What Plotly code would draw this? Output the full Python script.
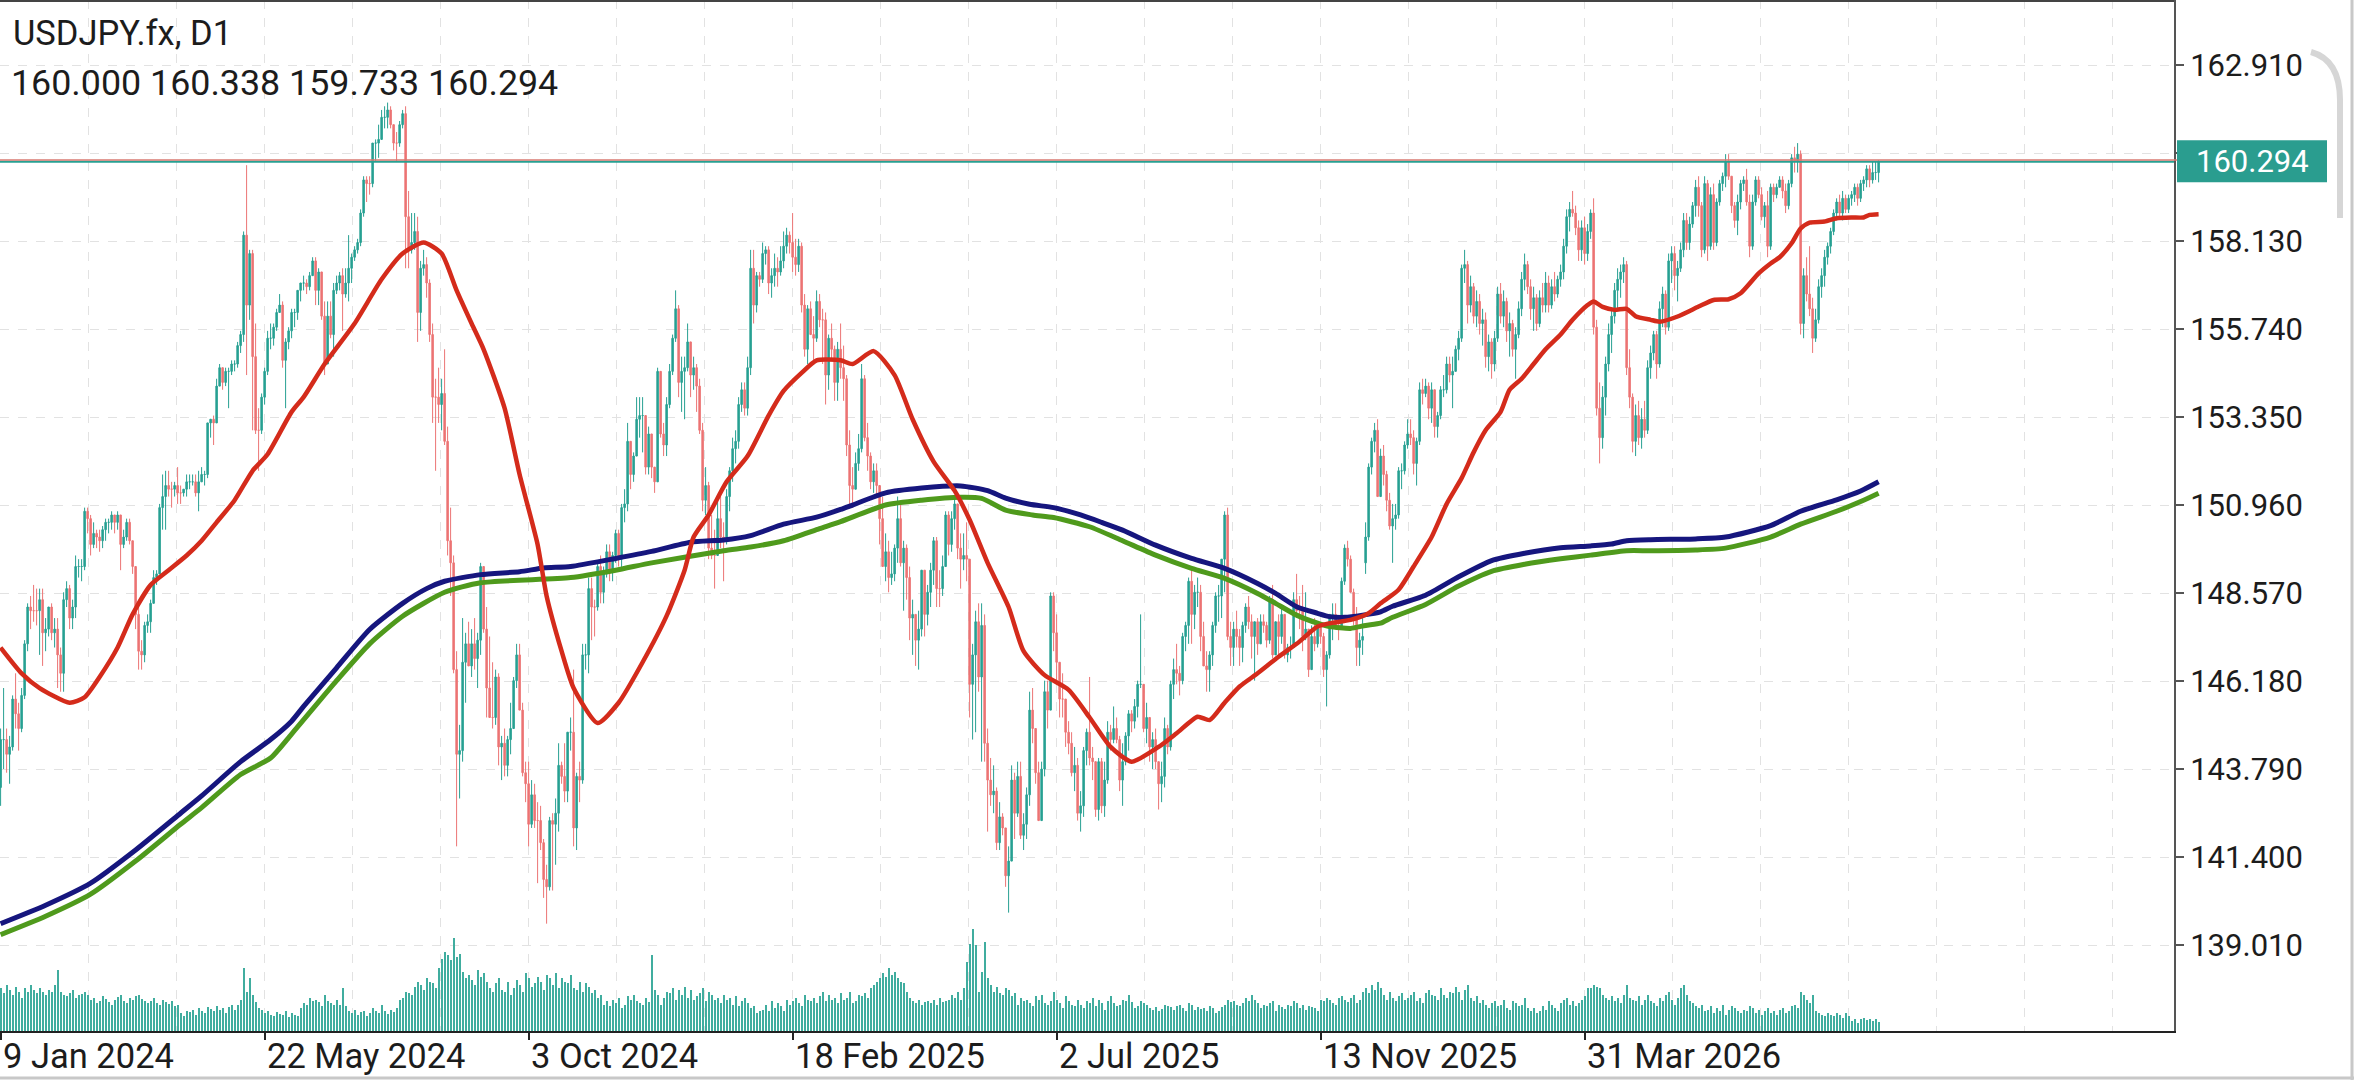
import plotly.graph_objects as go

# ---------------- data ----------------
symbol = "USDJPY.fx"
timeframe = "D1"

opens = [
143.3,144.6,144.6,144.2,144.4,145.7,145.3,144.9,145.8,147.2,
148.2,148.1,148.1,148.1,148.4,147.5,147.6,148.2,147.5,147.6,
146.9,146.4,148.4,148.7,147.9,148.2,149.3,149.3,149.3,150.8,
150.6,149.9,150.2,150.1,150.0,150.3,150.5,150.5,150.7,150.5,
150.7,149.9,150.1,150.5,150.0,149.3,148.0,147.0,146.9,147.7,
147.8,148.3,149.0,149.1,150.9,151.2,151.5,151.4,151.4,151.5,
151.3,151.3,151.4,151.6,151.6,151.6,151.3,151.6,151.8,151.8,
153.2,153.3,153.2,154.2,154.7,154.3,154.6,154.6,154.8,154.8,
155.3,155.6,158.3,156.4,157.8,155.0,153.0,153.0,153.9,154.6,
155.5,155.5,155.8,156.2,156.4,154.9,155.4,155.7,156.2,156.2,
156.8,157.0,157.0,156.9,157.2,157.6,156.8,157.3,156.1,154.8,
156.1,155.6,156.8,157.0,157.2,156.7,157.0,157.4,157.7,157.9,
158.1,158.9,159.8,159.7,159.7,160.8,160.8,160.9,161.5,161.5,
161.7,161.3,160.8,160.8,161.3,161.6,158.8,157.9,158.1,158.4,
156.2,157.4,157.5,157.0,155.6,153.9,153.9,153.7,154.0,152.7,
150.0,149.4,146.5,144.2,144.3,146.7,147.2,146.6,147.2,146.8,
147.3,149.3,147.6,146.0,145.2,145.2,146.3,144.4,144.5,143.9,
144.6,144.9,146.2,146.9,145.4,143.7,143.4,142.3,143.1,142.4,
142.4,141.8,140.8,140.6,142.4,142.3,142.6,143.9,143.6,143.2,
144.8,144.8,142.2,143.6,143.5,146.9,146.9,148.7,148.2,148.2,
149.3,148.6,149.1,149.7,149.2,149.6,150.2,149.5,150.9,151.0,
152.7,151.8,152.3,153.3,153.4,153.4,152.0,152.9,152.0,151.6,
154.6,152.9,152.6,153.7,154.6,155.5,156.3,154.3,154.6,154.7,
155.4,154.5,154.7,154.2,153.0,151.1,151.5,149.8,149.6,149.6,
150.6,150.1,150.0,151.2,151.9,152.5,152.7,153.7,154.1,153.6,
154.7,157.4,156.4,157.2,157.1,157.8,157.9,157.0,157.2,157.4,
157.3,157.6,158.0,158.3,158.1,157.7,157.5,158.0,156.4,155.2,
156.3,155.6,155.5,156.5,156.0,156.0,154.5,155.5,155.2,154.3,
155.2,154.7,154.4,152.6,151.5,151.4,152.1,152.5,154.4,152.8,
152.3,151.6,151.9,151.5,150.6,149.3,149.7,149.0,149.1,149.8,
150.6,149.4,149.8,149.0,147.9,148.0,147.3,147.6,149.2,148.0,
148.6,149.2,150.0,148.7,148.7,149.3,150.7,149.9,150.6,151.0,
149.8,149.5,149.6,149.5,146.1,146.9,147.8,146.3,147.7,144.5,
143.5,143.1,143.2,141.8,142.5,142.2,140.9,141.3,143.5,142.6,
143.6,142.0,142.3,143.1,145.4,144.9,143.7,142.4,143.8,145.9,
145.4,148.5,147.5,146.7,145.7,145.7,144.8,144.5,143.7,143.9,
142.6,142.8,144.3,144.8,144.1,144.0,142.7,144.0,142.8,143.5,
144.8,144.6,144.9,144.6,143.5,144.0,144.7,145.3,145.1,145.5,
146.1,146.1,144.9,145.2,144.4,144.6,144.0,143.4,143.6,144.9,
144.4,146.1,146.5,146.4,146.2,147.4,147.7,148.9,148.0,148.6,
148.6,147.4,146.6,146.5,146.9,147.7,148.5,148.5,149.5,150.7,
147.4,147.1,147.6,147.4,147.1,147.7,148.2,147.8,147.4,147.8,
147.2,147.8,147.7,147.3,148.4,146.9,147.8,147.4,148.0,146.9,
147.1,147.1,148.4,148.1,148.1,147.4,147.6,146.5,147.4,147.2,
147.7,147.4,146.5,146.9,148.0,148.0,147.7,147.6,148.9,149.8,
149.5,148.6,147.9,147.1,147.3,149.4,150.1,152.0,152.7,153.0,
151.2,152.3,151.8,151.1,150.4,150.6,150.7,151.9,151.9,152.6,
152.9,152.8,152.1,152.7,154.1,154.0,154.2,153.6,154.1,153.1,
153.4,154.1,154.1,154.8,154.5,154.6,155.2,155.5,157.4,157.5,
156.4,156.9,156.1,156.5,155.9,156.0,155.0,155.4,154.8,155.5,
156.7,156.1,156.5,155.7,155.9,155.2,155.6,156.3,157.1,157.5,
156.9,156.3,156.6,155.9,156.6,156.4,157.0,156.4,156.9,156.7,
157.1,157.3,158.0,158.8,159.0,158.9,158.5,157.9,158.5,157.8,
158.4,158.9,155.8,153.6,152.8,153.9,154.8,155.6,156.1,156.8,
157.1,157.3,157.5,154.7,153.9,152.7,153.4,152.8,153.3,153.0,
154.7,155.1,155.6,154.8,156.3,156.7,155.8,157.6,157.8,157.2,
157.4,157.9,158.7,158.1,158.6,159.1,159.6,159.1,157.9,159.7,
158.0,159.4,158.1,159.2,159.7,159.9,160.3,159.9,159.1,158.7,
159.2,159.7,159.8,159.2,158.0,159.2,159.8,159.4,158.8,159.1,
158.0,159.6,159.4,159.6,159.8,159.5,159.1,159.7,160.4,160.3,
160.5,155.9,157.2,156.7,156.3,155.5,156.0,156.9,157.2,157.7,
158.0,158.4,158.9,159.2,158.9,159.3,159.0,159.3,159.4,159.6,
159.3,159.7,159.8,160.1,159.8,160.0,160.000]

highs = [
144.9,146.0,144.9,144.7,145.8,146.4,145.6,146.0,147.3,148.3,
148.5,148.8,148.7,148.7,148.7,147.9,148.2,148.3,147.9,147.9,
147.1,148.6,148.9,148.8,148.4,149.6,149.5,149.5,150.9,150.9,
150.7,150.5,150.3,150.3,150.4,150.6,150.6,150.8,150.7,150.8,
150.7,150.3,150.6,150.6,150.0,149.3,148.2,147.3,147.8,148.0,
148.4,149.2,149.2,151.0,151.8,151.9,151.9,151.6,151.6,152.0,
151.5,151.4,151.8,151.8,151.8,151.8,151.9,152.0,151.9,153.2,
153.3,153.4,154.4,154.8,154.7,154.7,154.7,154.9,154.9,155.4,
155.7,158.4,160.2,157.9,157.9,155.9,153.6,154.0,154.7,155.7,
155.9,155.9,156.3,156.7,156.5,155.5,155.8,156.3,156.3,156.8,
157.0,157.2,157.1,157.3,157.7,157.7,157.4,157.2,156.5,156.5,
156.5,157.0,157.2,157.3,157.4,157.4,158.3,157.8,158.0,158.2,
159.0,159.9,159.9,159.9,160.8,160.9,161.3,161.7,161.8,161.9,
161.8,161.3,161.1,161.4,161.7,161.8,159.5,158.9,158.9,158.8,
157.6,157.9,157.7,157.1,155.9,154.4,154.7,154.4,155.2,153.1,
150.9,149.6,147.0,145.0,147.9,147.5,147.8,147.6,147.9,147.5,
149.4,149.0,148.2,147.4,146.7,146.5,146.4,144.7,144.9,144.7,
145.6,146.3,147.2,147.2,145.6,144.0,144.0,143.5,143.4,142.9,
142.8,141.9,141.2,142.5,142.6,143.0,144.5,144.0,144.5,144.8,
145.2,146.5,143.7,144.0,147.2,147.2,149.0,149.0,148.4,149.4,
149.6,149.3,149.9,149.9,149.7,150.3,150.3,151.0,151.4,153.2,
152.7,152.4,153.9,153.9,153.9,153.3,153.1,152.7,152.0,154.7,
154.6,153.2,153.9,154.8,155.6,156.8,156.4,155.0,155.0,155.9,
155.0,155.0,154.8,154.4,153.2,152.0,151.6,150.7,150.3,151.1,
151.2,150.5,151.4,152.0,152.8,153.0,153.9,154.3,154.3,155.0,
157.9,157.9,157.3,157.3,158.1,158.0,158.0,157.4,157.8,157.7,
158.0,158.4,158.5,158.4,158.9,158.2,158.2,158.1,156.7,156.4,
156.5,156.1,156.8,156.7,156.3,156.2,155.6,155.9,155.3,155.4,
155.9,155.3,154.5,153.0,152.0,152.4,152.9,154.8,154.5,153.2,
152.4,152.1,152.1,151.5,151.2,150.2,150.0,149.7,149.9,151.2,
151.0,150.0,149.9,149.3,148.4,148.0,148.1,149.2,149.0,148.8,
149.4,150.1,150.1,149.2,149.6,150.8,150.8,150.8,151.2,151.0,
150.2,150.2,150.5,149.3,147.2,148.1,148.3,148.3,148.0,144.9,
144.1,143.9,143.3,142.9,142.6,142.2,141.7,143.9,143.7,144.0,
144.0,142.6,143.3,145.9,146.0,144.9,144.0,144.0,146.2,146.2,
148.6,148.6,148.0,146.7,146.4,145.7,145.1,144.8,144.4,144.1,
143.2,144.4,144.9,146.3,144.4,144.0,144.1,144.1,144.0,145.1,
145.0,145.5,145.2,144.7,144.5,144.8,145.4,145.4,145.7,146.2,
148.0,146.1,145.6,145.2,144.8,144.9,144.0,144.0,145.2,145.0,
146.2,146.8,147.2,146.6,147.5,147.8,149.0,149.2,148.8,149.0,
148.8,147.8,147.0,147.0,147.8,148.6,148.8,149.5,150.8,150.9,
147.8,147.8,148.1,147.6,147.8,148.3,148.5,148.0,147.8,147.9,
148.0,148.0,147.8,148.5,148.8,147.8,148.0,148.2,148.0,147.2,
147.4,148.6,149.1,148.5,148.8,148.6,147.6,147.7,147.9,147.8,
147.8,147.5,147.0,148.0,148.3,148.3,147.9,149.0,149.9,150.0,
149.6,148.7,148.2,147.5,147.9,150.5,152.1,152.8,153.2,153.3,
152.5,152.6,151.9,151.3,151.0,151.0,152.0,152.1,152.7,153.3,
153.3,153.0,152.8,154.3,154.4,154.4,154.3,154.3,154.1,153.5,
154.2,154.5,155.0,155.0,155.0,155.3,155.7,157.5,157.9,157.6,
157.2,157.0,156.8,156.7,156.3,156.2,155.6,155.5,155.7,156.9,
157.0,156.8,156.6,156.2,156.0,155.8,156.5,157.3,157.8,157.6,
157.1,156.9,156.7,156.8,157.0,157.3,157.2,157.1,157.3,157.2,
157.5,158.2,159.0,159.2,159.5,159.1,158.7,158.7,158.8,158.6,
159.0,159.3,156.0,154.3,154.2,155.0,155.9,156.3,157.0,157.4,
157.5,157.7,157.6,155.2,154.0,153.7,153.8,153.6,153.8,154.9,
155.3,155.7,155.7,156.5,156.9,156.8,157.8,158.0,158.0,157.6,
158.1,158.9,158.9,158.8,159.2,159.8,159.9,159.2,159.9,159.8,
159.6,159.7,159.3,159.8,160.0,160.5,160.5,159.9,159.2,159.4,
159.8,159.9,160.1,159.4,159.4,159.9,159.9,159.6,159.2,159.5,
159.7,159.7,159.7,159.9,159.9,159.7,159.8,160.5,160.7,160.8,
160.6,157.4,157.7,158.0,156.6,156.3,157.1,157.4,157.9,158.1,
158.5,159.0,159.3,159.4,159.5,159.4,159.4,159.5,159.7,159.7,
159.8,159.9,160.2,160.2,160.3,160.3,160.338]

lows = [
142.8,143.8,143.7,143.4,144.3,144.9,144.3,144.8,145.7,147.0,
147.6,147.8,147.7,146.9,146.6,147.0,147.4,147.3,147.1,146.0,
145.9,145.9,148.2,147.6,147.6,147.9,149.0,148.9,149.2,150.2,
149.6,149.8,149.8,149.7,149.8,150.0,150.2,150.3,150.2,150.3,
149.2,149.8,150.0,149.9,149.1,147.6,146.5,146.5,146.7,147.5,
147.5,148.3,148.8,149.2,150.3,150.3,151.2,150.9,151.2,151.0,
151.0,151.2,151.2,151.4,151.5,151.2,150.8,151.6,151.5,151.7,
152.8,152.6,153.3,154.2,154.1,154.2,153.6,154.5,154.6,154.7,
155.1,155.4,154.5,156.0,153.0,152.9,151.9,152.9,153.7,154.5,
155.2,155.3,155.7,156.2,154.7,153.6,155.2,155.5,155.8,156.0,
156.5,156.8,156.7,156.8,157.2,156.4,156.4,156.0,154.5,154.8,
155.5,155.0,156.7,156.8,155.7,156.6,156.5,157.0,157.6,157.8,
158.0,158.8,159.2,159.4,159.6,160.3,160.4,160.9,161.2,161.2,
161.2,160.6,160.3,160.7,161.2,157.4,157.4,157.8,157.9,155.4,
155.7,157.2,156.6,155.4,153.2,151.9,153.2,153.0,152.6,149.6,
148.5,146.4,141.7,143.0,144.0,145.6,146.6,146.3,146.5,146.0,
146.9,147.5,145.2,145.2,144.9,145.0,143.9,143.5,143.6,143.6,
144.2,144.9,146.0,145.4,143.6,142.9,141.7,142.2,142.2,140.7,
141.6,140.3,139.6,140.5,140.5,141.2,142.1,143.4,142.9,142.9,
144.3,141.7,141.6,142.9,143.4,146.5,146.4,147.3,147.4,148.1,
148.3,148.3,149.0,148.9,148.9,149.4,149.3,149.2,150.5,150.8,
151.4,151.6,152.3,152.8,152.4,151.8,151.8,151.7,151.3,151.6,
152.8,152.3,152.3,153.6,154.5,155.4,153.9,153.5,153.3,154.6,
153.9,154.1,153.5,152.9,150.8,150.7,149.5,149.5,148.7,149.6,
149.8,148.9,149.9,150.8,151.6,152.1,152.5,153.5,153.4,153.4,
154.5,155.9,156.2,156.9,157.0,157.5,156.7,156.6,156.9,156.9,
157.2,157.4,157.8,157.8,157.3,157.2,157.3,156.2,155.0,154.8,
155.6,154.8,155.4,155.8,154.8,153.7,154.1,154.9,153.8,153.8,
154.4,153.8,152.3,150.9,150.9,151.4,151.9,152.4,152.7,151.9,
151.4,151.3,151.2,149.9,149.3,148.9,148.6,148.8,148.9,149.4,
149.3,148.1,148.4,147.3,146.9,146.6,146.5,147.4,147.4,147.7,
148.2,148.8,148.2,148.2,148.5,149.3,149.6,149.7,150.3,149.5,
148.7,149.2,148.9,145.2,144.6,144.8,145.9,144.0,144.0,142.1,
142.8,142.6,141.6,141.6,142.0,140.6,139.9,141.3,141.9,142.5,
141.9,141.6,141.9,142.8,144.5,143.4,142.4,142.4,143.6,144.9,
145.4,147.0,146.1,145.2,145.2,144.4,144.2,143.6,143.2,142.4,
142.1,142.5,143.9,143.9,143.5,142.5,142.4,142.6,142.5,143.4,
144.3,144.5,144.5,143.2,142.8,143.9,144.3,144.8,144.9,145.2,
146.0,144.8,144.5,144.0,143.8,143.8,142.7,142.9,143.3,144.2,
144.3,145.7,146.1,145.8,146.1,147.0,147.2,147.2,147.6,148.2,
147.0,146.6,145.9,145.9,146.6,147.5,147.8,147.9,148.6,147.3,
146.6,146.6,147.1,146.6,146.7,147.5,147.6,146.8,146.2,146.9,
147.2,147.5,147.1,147.2,146.8,146.9,146.8,147.2,146.8,146.7,
146.8,147.1,147.9,147.6,147.0,147.3,146.3,146.5,147.0,147.1,
147.2,146.3,145.5,146.8,147.3,147.6,147.3,147.6,148.8,149.3,
148.6,147.7,146.6,146.6,146.9,149.1,150.0,151.8,152.4,151.2,
151.2,151.5,150.8,150.3,149.4,150.3,150.6,151.4,151.8,152.5,
152.6,151.8,151.5,152.6,153.7,153.9,153.3,153.2,152.8,152.8,
153.3,153.9,154.0,154.3,153.6,154.6,154.9,155.4,157.0,155.9,
156.2,155.9,155.8,155.6,155.3,154.7,154.6,154.4,154.6,155.4,
155.9,155.8,155.4,155.0,155.0,154.4,155.5,156.1,156.8,156.7,
156.0,155.7,155.7,155.8,156.2,156.2,156.2,156.3,156.5,156.6,
156.9,157.1,157.8,158.4,158.8,158.3,157.6,157.6,157.5,157.6,
158.2,155.6,153.4,152.1,152.5,153.4,154.6,155.1,155.9,156.3,
156.6,157.0,154.5,153.6,152.4,152.3,152.6,152.5,152.8,152.9,
154.4,154.9,154.4,154.7,155.8,155.6,155.7,157.0,156.8,156.5,
157.3,157.7,157.9,157.9,158.5,158.8,158.8,157.7,157.8,157.6,
157.9,157.9,158.0,159.1,159.5,159.6,159.8,158.9,158.5,158.3,
159.0,159.5,159.1,157.7,157.9,159.1,159.3,158.7,158.5,157.7,
157.9,159.2,159.3,159.6,159.3,158.9,159.0,159.6,160.0,160.0,
155.6,155.5,156.5,156.1,155.1,155.4,155.9,156.6,156.9,157.5,
157.8,158.3,158.7,158.8,158.7,158.9,158.9,159.1,159.2,159.1,
159.2,159.5,159.6,159.6,159.7,159.8,159.733]

closes = [
144.6,144.6,144.2,144.4,145.7,145.3,144.9,145.8,147.2,148.2,
148.1,148.1,148.1,148.4,147.5,147.6,148.2,147.5,147.6,146.9,
146.4,148.4,148.7,147.9,148.2,149.3,149.3,149.3,150.8,150.6,
149.9,150.2,150.1,150.0,150.3,150.5,150.5,150.7,150.5,150.7,
149.9,150.1,150.5,150.0,149.3,148.0,147.0,146.9,147.7,147.8,
148.3,149.0,149.1,150.9,151.2,151.5,151.4,151.4,151.5,151.3,
151.3,151.4,151.6,151.6,151.6,151.3,151.6,151.8,151.8,153.2,
153.3,153.2,154.2,154.7,154.3,154.6,154.6,154.8,154.8,155.3,
155.6,158.3,156.4,157.8,155.0,153.0,153.0,153.9,154.6,155.5,
155.5,155.8,156.2,156.4,154.9,155.4,155.7,156.2,156.2,156.8,
157.0,157.0,156.9,157.2,157.6,156.8,157.3,156.1,154.8,156.1,
155.6,156.8,157.0,157.2,156.7,157.0,157.4,157.7,157.9,158.1,
158.9,159.8,159.7,159.7,160.8,160.8,160.9,161.5,161.5,161.7,
161.3,160.8,160.8,161.3,161.6,158.8,157.9,158.1,158.4,156.2,
157.4,157.5,157.0,155.6,153.9,153.9,153.7,154.0,152.7,150.0,
149.4,146.5,144.2,144.3,146.7,147.2,146.6,147.2,146.8,147.3,
149.3,147.6,146.0,145.2,145.2,146.3,144.4,144.5,143.9,144.6,
144.9,146.2,146.9,145.4,143.7,143.4,142.3,143.1,142.4,142.4,
141.8,140.8,140.6,142.4,142.3,142.6,143.9,143.6,143.2,144.8,
144.8,142.2,143.6,143.5,146.9,146.9,148.7,148.2,148.2,149.3,
148.6,149.1,149.7,149.2,149.6,150.2,149.5,150.9,151.0,152.7,
151.8,152.3,153.3,153.4,153.4,152.0,152.9,152.0,151.6,154.6,
152.9,152.6,153.7,154.6,155.5,156.3,154.3,154.6,154.7,155.4,
154.5,154.7,154.2,153.0,151.1,151.5,149.8,149.6,149.6,150.6,
150.1,150.0,151.2,151.9,152.5,152.7,153.7,154.1,153.6,154.7,
157.4,156.4,157.2,157.1,157.8,157.9,157.0,157.2,157.4,157.3,
157.6,158.0,158.3,158.1,157.7,157.5,158.0,156.4,155.2,156.3,
155.6,155.5,156.5,156.0,156.0,154.5,155.5,155.2,154.3,155.2,
154.7,154.4,152.6,151.5,151.4,152.1,152.5,154.4,152.8,152.3,
151.6,151.9,151.5,150.6,149.3,149.7,149.0,149.1,149.8,150.6,
149.4,149.8,149.0,147.9,148.0,147.3,147.6,149.2,148.0,148.6,
149.2,150.0,148.7,148.7,149.3,150.7,149.9,150.6,151.0,149.8,
149.5,149.6,149.5,146.1,146.9,147.8,146.3,147.7,144.5,143.5,
143.1,143.2,141.8,142.5,142.2,140.9,141.3,143.5,142.6,143.6,
142.0,142.3,143.1,145.4,144.9,143.7,142.4,143.8,145.9,145.4,
148.5,147.5,146.7,145.7,145.7,144.8,144.5,143.7,143.9,142.6,
142.8,144.3,144.8,144.1,144.0,142.7,144.0,142.8,143.5,144.8,
144.6,144.9,144.6,143.5,144.0,144.7,145.3,145.1,145.5,146.1,
146.1,144.9,145.2,144.4,144.6,144.0,143.4,143.6,144.9,144.4,
146.1,146.5,146.4,146.2,147.4,147.7,148.9,148.0,148.6,148.6,
147.4,146.6,146.5,146.9,147.7,148.5,148.5,149.5,150.7,147.4,
147.1,147.6,147.4,147.1,147.7,148.2,147.8,147.4,147.8,147.2,
147.8,147.7,147.3,148.4,146.9,147.8,147.4,148.0,146.9,147.1,
147.1,148.4,148.1,148.1,147.4,147.6,146.5,147.4,147.2,147.7,
147.4,146.5,146.9,148.0,148.0,147.7,147.6,148.9,149.8,149.5,
148.6,147.9,147.1,147.3,147.4,150.1,152.0,152.7,153.0,151.2,
152.3,151.8,151.1,150.4,150.6,150.7,151.9,151.9,152.6,152.9,
152.8,152.1,152.7,154.1,154.0,154.2,153.6,154.1,153.1,153.4,
154.1,154.1,154.8,154.5,154.6,155.2,155.5,157.4,157.5,156.4,
156.9,156.1,156.5,155.9,156.0,155.0,155.4,154.8,155.5,156.7,
156.1,156.5,155.7,155.9,155.2,155.6,156.3,157.1,157.5,156.9,
156.3,156.6,155.9,156.6,156.4,157.0,156.4,156.9,156.7,157.1,
157.3,158.0,158.8,159.0,158.9,158.5,157.9,158.5,157.8,158.4,
158.9,155.8,153.6,152.8,153.9,154.8,155.6,156.1,156.8,157.1,
157.3,157.5,154.7,153.9,152.7,153.4,152.8,153.3,153.0,154.7,
155.1,155.6,154.8,156.3,156.7,155.8,157.6,157.8,157.2,157.4,
157.9,158.7,158.1,158.6,159.1,159.6,159.1,157.9,159.7,158.0,
159.4,158.1,159.2,159.7,159.9,160.3,159.9,159.1,158.7,159.2,
159.7,159.8,159.2,158.0,159.2,159.8,159.4,158.8,159.1,158.0,
159.6,159.4,159.6,159.8,159.5,159.1,159.7,160.4,160.3,160.5,
155.9,157.2,156.7,156.3,155.5,156.0,156.9,157.2,157.7,158.0,
158.4,158.9,159.2,158.9,159.3,159.0,159.3,159.4,159.6,159.3,
159.7,159.8,160.1,159.8,160.0,160.0,160.294]

volumes = [
130,115,140,125,110,135,120,100,130,120,
140,125,115,130,120,110,125,118,140,185,
120,110,105,115,125,100,108,112,120,110,
95,100,85,92,105,98,88,80,95,102,
110,90,85,100,95,105,110,98,92,85,
90,100,85,78,95,88,82,90,75,80,
55,45,60,58,65,50,70,62,55,72,
68,60,75,64,70,55,72,80,65,78,
95,190,120,160,110,88,70,65,55,62,
50,45,58,52,48,60,42,55,50,45,
70,85,80,100,90,95,88,75,110,92,
85,78,95,80,130,75,60,55,65,50,
58,62,45,55,70,62,55,80,60,52,
65,58,70,95,100,120,115,110,135,150,
140,125,160,150,145,130,190,220,240,230,
215,283,225,235,180,160,170,155,140,185,
165,175,150,130,120,145,160,125,118,150,
110,130,155,140,120,175,160,135,145,165,
150,125,170,160,140,175,130,160,150,145,
170,130,125,150,120,145,135,115,125,100,
110,80,90,75,95,85,100,70,80,105,
95,110,90,85,78,100,88,232,125,110,
80,100,120,115,130,95,125,110,135,100,
125,95,105,115,130,90,120,110,95,100,
85,110,95,100,80,105,75,90,100,85,
70,75,55,60,65,80,60,90,70,85,
75,60,95,80,90,100,85,75,110,95,
90,100,85,105,120,90,110,95,100,85,
115,95,100,120,85,90,110,105,115,100,
130,140,150,160,175,165,190,170,180,160,
150,145,120,100,90,85,95,80,88,92,
85,95,80,100,88,90,95,110,100,120,
95,130,210,265,310,260,120,180,270,160,
140,120,135,115,110,130,125,105,115,80,
100,90,95,85,75,105,95,110,85,80,
90,120,95,85,70,105,90,80,75,95,
80,70,90,85,100,75,95,85,65,90,
105,85,75,80,95,90,110,88,70,75,
90,85,80,70,65,72,60,68,80,75,
72,65,75,80,70,60,85,78,65,72,
68,70,62,75,70,55,60,72,80,95,
88,92,80,75,85,100,90,110,95,85,
70,80,75,85,90,60,78,72,68,80,
75,90,85,70,80,65,75,72,70,60,
95,90,100,95,85,80,100,105,95,88,
100,110,85,95,120,130,115,140,125,150,
130,110,95,120,100,90,105,115,95,100,
110,120,90,100,85,115,125,110,105,95,
130,110,100,120,115,135,120,95,125,140,
100,90,105,85,95,80,70,85,90,75,
80,95,70,65,90,85,75,80,100,70,
60,70,55,60,75,65,90,80,70,60,
85,95,100,80,90,75,85,95,105,130,
130,140,135,130,110,100,95,105,90,100,
85,110,140,100,95,90,105,80,95,110,
90,85,75,100,90,110,120,95,80,100,
130,140,110,90,85,75,70,80,60,65,
75,55,70,60,80,50,65,75,70,60,
55,65,60,75,70,55,65,50,60,70,
55,60,50,65,70,55,60,75,80,70,
120,110,95,85,110,60,55,50,45,55,
50,45,55,50,40,55,45,30,35,25,
38,40,32,36,30,35,28]

# moving averages, sampled at bar indices
red_ma_bars = [0,7,13,23,28,33,39,44,50,56,62,67,72,78,84,89,97,101,108,118,127,134,141,147,152,157,161,168,173,179,182,187,191,199,206,214,222,228,231,236,242,249,256,261,267,272,280,284,291,298,304,311,318,323,329,336,341,348,356,363,370,377,386,392,399,403,408,413,419,426,432,439,443,450,456,460,466,471,477,482,487,491,495,500,503,507,511,515,520,524,529,531,534,538,542,545,550,553,559,566,571,576,580,586,590,593,597,600,603,608,612,617,621,623,626]
red_ma = [147.1,146.4,146.0,145.6,145.75,146.3,147.1,148.0,148.8,149.2,149.6,150.0,150.5,151.1,151.9,152.35,153.5,153.9,154.8,155.9,157.1,157.8,158.1,157.8,156.8,155.9,155.2,153.6,151.8,149.9,148.5,147.0,146.0,145.05,145.6,146.7,147.96,149.2,150.1,150.7,151.6,152.3,153.4,154.07,154.56,154.9,154.9,154.8,155.15,154.5,153.3,152.15,151.36,150.57,149.4,148.2,147.0,146.35,145.95,145.2,144.4,144.0,144.4,144.77,145.22,145.13,145.6,146.04,146.4,146.85,147.2,147.67,147.76,147.85,148.03,148.3,148.67,149.3,150.1,151.0,151.7,152.4,153.0,153.5,154.1,154.4,154.8,155.2,155.6,156.0,156.4,156.5,156.35,156.27,156.3,156.1,156.0,155.95,156.09,156.36,156.54,156.56,156.72,157.26,157.53,157.7,158.08,158.48,158.64,158.67,158.76,158.78,158.78,158.85,158.87]

blue_ma_bars = [0,15,30,45,60,67,80,90,97,101,112,123,134,142,148,160,173,181,190,205,217,230,241,250,261,272,280,284,295,307,320,329,335,343,351,360,367,374,385,397,408,419,425,432,439,443,448,454,460,464,475,486,497,508,520,530,537,542,550,565,575,590,600,612,620,626]
blue_ma = [139.6,140.1,140.7,141.6,142.6,143.07,144.0,144.6,145.1,145.5,146.55,147.59,148.3,148.7,148.9,149.08,149.16,149.26,149.3,149.52,149.71,149.96,150.02,150.14,150.45,150.64,150.85,150.97,151.3,151.43,151.49,151.36,151.16,150.99,150.9,150.7,150.5,150.29,149.88,149.52,149.25,148.84,148.57,148.21,148.03,147.94,147.92,147.98,148.07,148.22,148.52,149.02,149.46,149.66,149.81,149.86,149.91,150.0,150.03,150.05,150.1,150.41,150.8,151.11,151.35,151.6]

green_ma_bars = [0,15,30,45,60,67,80,90,97,112,123,134,148,160,190,205,217,241,250,261,273,280,295,307,320,327,335,344,351,363,374,385,397,408,419,425,432,439,443,450,455,460,464,475,486,497,508,520,530,542,550,565,575,590,600,612,621,626]
green_ma = [139.3,139.8,140.4,141.3,142.3,142.75,143.65,144.1,144.75,146.2,147.2,147.95,148.6,148.86,149.0,149.2,149.4,149.73,149.83,150.0,150.33,150.52,150.97,151.1,151.18,151.15,150.83,150.7,150.63,150.38,150.0,149.61,149.25,148.98,148.57,148.3,147.98,147.76,147.67,147.62,147.7,147.76,147.92,148.27,148.77,149.17,149.36,149.51,149.61,149.73,149.73,149.75,149.8,150.1,150.45,150.8,151.1,151.29]

date_tick_bars = [0, 88, 176, 264, 352, 440, 528]
date_tick_labels = ["9 Jan 2024", "22 May 2024", "3 Oct 2024", "18 Feb 2025",
                    "2 Jul 2025", "13 Nov 2025", "31 Mar 2026"]
price_ticks = [139.01, 141.40, 143.79, 146.18, 148.57, 150.96, 153.35,
               155.74, 158.13, 160.52, 162.91]

# ---------------- styling constants ----------------
W, H = 2354, 1080
PLOT_R = 2174          # right edge of the plot area (px)
PLOT_B = 1031          # bottom edge of the plot area (px)
BULL = "#27a092"
BEAR = "#ec7474"
VOL = "#40ad9f"
GRID = "#e2e2e2"
TXT = "#1c1c1c"
FONT = "Roboto"

bars = list(range(len(closes)))
hi = [max(h, o, c) for h, o, c in zip(highs, opens, closes)]
lo = [min(l, o, c) for l, o, c in zip(lows, opens, closes)]
last_price = closes[-1]

fig = go.Figure()

fig.add_trace(go.Bar(
    x=bars, y=volumes, yaxis="y2", width=0.72,
    marker=dict(color=VOL, line=dict(width=0)),
    hoverinfo="skip", showlegend=False))

fig.add_trace(go.Candlestick(
    x=bars, open=opens, high=hi, low=lo, close=closes,
    increasing=dict(line=dict(color=BULL, width=1), fillcolor=BULL),
    decreasing=dict(line=dict(color=BEAR, width=1), fillcolor=BEAR),
    whiskerwidth=0, hoverinfo="skip", showlegend=False))

fig.add_trace(go.Scatter(x=green_ma_bars, y=green_ma, mode="lines",
                         line=dict(color="#4f9a1c", width=5, shape="spline", smoothing=0.6),
                         hoverinfo="skip", showlegend=False))
fig.add_trace(go.Scatter(x=blue_ma_bars, y=blue_ma, mode="lines",
                         line=dict(color="#16167e", width=5, shape="spline", smoothing=0.6),
                         hoverinfo="skip", showlegend=False))
fig.add_trace(go.Scatter(x=red_ma_bars, y=red_ma, mode="lines",
                         line=dict(color="#d42b1b", width=4.5, shape="spline", smoothing=0.6),
                         hoverinfo="skip", showlegend=False))

px_per_bar = 3.0
x_range = [-0.2, PLOT_R / px_per_bar - 0.2]
px_per_yen = 36.82
y_top = 162.91 + 65.4 / px_per_yen
y_bot = y_top - PLOT_B / px_per_yen

price_text = [("" if abs(p - 160.52) < 1e-6 else f"{p:.3f}") for p in price_ticks]

fig.update_layout(
    width=W, height=H,
    margin=dict(l=0, r=W - PLOT_R, t=0, b=H - PLOT_B),
    paper_bgcolor="white", plot_bgcolor="white",
    showlegend=False, bargap=0,
    font=dict(family=FONT, color=TXT),
    xaxis=dict(
        range=x_range, tickmode="array", tickvals=date_tick_bars,
        showticklabels=False, ticks="outside", ticklen=7, tickwidth=2, tickcolor="#222",
        showgrid=True, gridcolor=GRID, griddash="dash", gridwidth=1,
        minor=dict(tickmode="linear", tick0=0, dtick=88 / 3, showgrid=True,
                   gridcolor=GRID, griddash="dash", gridwidth=1, ticks=""),
        showline=True, linecolor="#222", linewidth=2, zeroline=False,
        rangeslider=dict(visible=False), fixedrange=True),
    yaxis=dict(
        range=[y_bot, y_top], side="right", tickmode="array",
        tickvals=price_ticks, ticktext=price_text,
        ticks="outside", ticklen=8, tickwidth=1.5, tickcolor="#555",
        tickfont=dict(family=FONT, size=31, color=TXT),
        ticklabelstandoff=0,
        showgrid=True, gridcolor=GRID, griddash="dash", gridwidth=1,
        showline=True, linecolor="#555", linewidth=2, zeroline=False, fixedrange=True),
    yaxis2=dict(overlaying="y", range=[0, 310 * PLOT_B / 102], visible=False,
                fixedrange=True),
)

def px_x(x):
    return x / PLOT_R

def px_y(y):
    return 1 - y / PLOT_B

annotations = [
    dict(text=f"{symbol}, {timeframe}", x=px_x(11), y=px_y(33), xref="paper", yref="paper",
         xanchor="left", yanchor="middle", showarrow=False,
         font=dict(family=FONT, size=34.5, color=TXT)),
    dict(text=f"{opens[-1]:.3f} {highs[-1]:.3f} {lows[-1]:.3f} {closes[-1]:.3f}",
         x=px_x(9), y=px_y(83), xref="paper", yref="paper",
         xanchor="left", yanchor="middle", showarrow=False,
         font=dict(family=FONT, size=35.8, color=TXT)),
    dict(text=f"{last_price:.3f}", x=px_x(2252), y=last_price, xref="paper", yref="y",
         xanchor="center", yanchor="middle", showarrow=False,
         font=dict(family=FONT, size=31, color="white")),
]
for b, lab in zip(date_tick_bars, date_tick_labels):
    annotations.append(dict(text=lab, x=b, y=px_y(1056), xref="x", yref="paper",
                            xanchor="left", yanchor="middle", showarrow=False,
                            font=dict(family=FONT, size=34.5, color=TXT)))

shapes = [
    # bid line and ask line
    dict(type="line", xref="paper", yref="y", x0=0, x1=1, y0=last_price, y1=last_price,
         line=dict(color=BULL, width=2), layer="above"),
    dict(type="line", xref="paper", yref="y", x0=0, x1=px_x(2327),
         y0=last_price + 0.045, y1=last_price + 0.045,
         line=dict(color="#d97a72", width=1.5), layer="above"),
    # current price box
    dict(type="rect", xref="paper", yref="y", x0=px_x(2177), x1=px_x(2327),
         y0=last_price - 0.56, y1=last_price + 0.58,
         fillcolor="#2a9d8f", line=dict(width=0), layer="above"),
    # top border
    dict(type="line", xref="paper", yref="paper", x0=0, x1=1, y0=px_y(1), y1=px_y(1),
         line=dict(color="#444", width=2)),
    # outer frame of the screenshot
    dict(type="line", xref="paper", yref="paper", x0=px_x(2352), x1=px_x(2352),
         y0=px_y(0), y1=px_y(1080), line=dict(color="#c8c8c8", width=3)),
    dict(type="line", xref="paper", yref="paper", x0=0, x1=px_x(2354),
         y0=px_y(1078), y1=px_y(1078), line=dict(color="#c8c8c8", width=3)),
    # scroll indicator arc
    dict(type="path", xref="paper", yref="paper",
         path=(f"M {px_x(2311)},{px_y(52)} Q {px_x(2340)},{px_y(60)} "
               f"{px_x(2340)},{px_y(100)} L {px_x(2340)},{px_y(218)}"),
         line=dict(color="#d6d6d6", width=6)),
]
fig.update_layout(annotations=annotations, shapes=shapes)

fig.write_html("out.html")
